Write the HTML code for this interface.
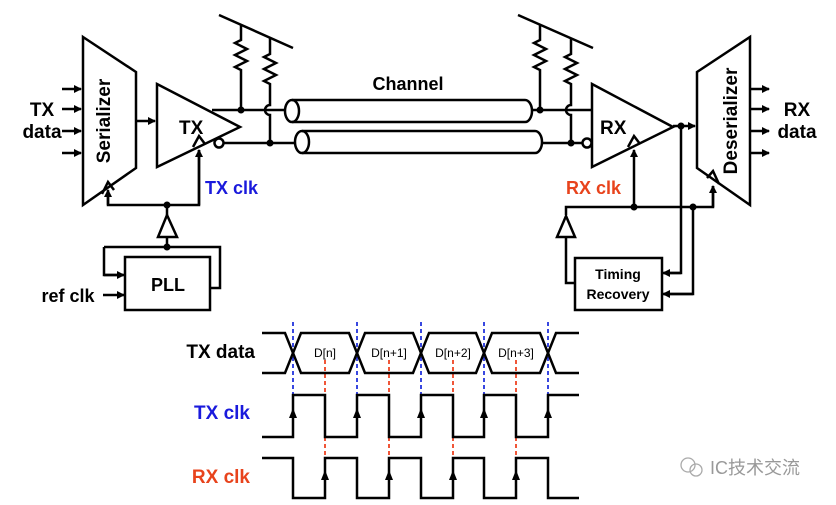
<!DOCTYPE html>
<html><head><meta charset="utf-8"><style>
html,body{margin:0;padding:0;background:#fff;}
svg{display:block;}
text{font-family:"Liberation Sans",Arial,sans-serif;font-weight:bold;}
</style></head><body>
<svg width="836" height="505" viewBox="0 0 836 505" xmlns="http://www.w3.org/2000/svg">
<defs>
<marker id="ar" markerWidth="8" markerHeight="8" refX="7" refY="4" orient="auto" markerUnits="userSpaceOnUse"><path d="M0,0 L8,4 L0,8 z" fill="#000"/></marker>
</defs>
<g stroke="#000" stroke-width="2.5" fill="none">
<path d="M83,37 L136,72 L136,168 L83,205 Z"/>
<path d="M102,194 L108,182 L114,190"/>
<line x1="62" y1="89" x2="81" y2="89" marker-end="url(#ar)"/>
<line x1="62" y1="109" x2="81" y2="109" marker-end="url(#ar)"/>
<line x1="62" y1="131" x2="81" y2="131" marker-end="url(#ar)"/>
<line x1="62" y1="153" x2="81" y2="153" marker-end="url(#ar)"/>
<line x1="136" y1="121" x2="155" y2="121" marker-end="url(#ar)"/>
<path d="M157,84 L240,127 L157,167 Z"/>
<path d="M193,147 L199,136 L205,144"/>
<circle cx="219" cy="143" r="4.5"/>
<line x1="212" y1="110" x2="285" y2="110"/>
<line x1="224" y1="143" x2="295" y2="143"/>
<line x1="219" y1="15" x2="293" y2="48"/>
<path d="M241,25 L241,40 L235,43 L247,49 L235,55 L247,61 L235,67 L241,70 L241,110"/>
<path d="M270,38 L270,54 L264,57 L276,63 L264,69 L276,75 L264,81 L270,84 L270,105 A5,5 0 0 0 270,115 L270,143"/>
<path d="M292,100 L525,100 A7,11 0 0 1 525,122 L292,122"/>
<ellipse cx="292" cy="111" rx="7" ry="11"/>
<path d="M302,131 L535,131 A7,11 0 0 1 535,153 L302,153"/>
<ellipse cx="302" cy="142" rx="7" ry="11"/>
<line x1="518" y1="15" x2="593" y2="48"/>
<path d="M540,25 L540,40 L534,43 L546,49 L534,55 L546,61 L534,67 L540,70 L540,110"/>
<path d="M571,38 L571,54 L565,57 L577,63 L565,69 L577,75 L565,81 L571,84 L571,105 A5,5 0 0 0 571,115 L571,143"/>
<line x1="531" y1="110" x2="592" y2="110"/>
<line x1="541" y1="143" x2="583" y2="143"/>
<circle cx="587" cy="143" r="4.5"/>
<path d="M592,84 L673,127 L592,167 Z"/>
<path d="M628,147 L634,136 L640,144"/>
<line x1="673" y1="126" x2="695" y2="126" marker-end="url(#ar)"/>
<path d="M697,72 L750,37 L750,205 L697,168 Z"/>
<path d="M707,178 L713,171 L719,184"/>
<line x1="750" y1="89" x2="769" y2="89" marker-end="url(#ar)"/>
<line x1="750" y1="109" x2="769" y2="109" marker-end="url(#ar)"/>
<line x1="750" y1="131" x2="769" y2="131" marker-end="url(#ar)"/>
<line x1="750" y1="153" x2="769" y2="153" marker-end="url(#ar)"/>
<polyline points="108,195 108,205 199,205 199,150" />
<line x1="108" y1="205" x2="108" y2="190" marker-end="url(#ar)"/>
<line x1="199" y1="205" x2="199" y2="150" marker-end="url(#ar)"/>
<line x1="167" y1="205" x2="167" y2="215"/>
<path d="M167,215 L177,237 L158,237 Z"/>
<line x1="167" y1="237" x2="167" y2="247"/>
<polyline points="104,247 220,247 220,288 210,288"/>
<polyline points="104,247 104,275 123,275" />
<line x1="104" y1="275" x2="124" y2="275" marker-end="url(#ar)"/>
<rect x="125" y="257" width="85" height="53"/>
<line x1="103" y1="295" x2="124" y2="295" marker-end="url(#ar)"/>
<polyline points="566,215 566,207 713,207 713,186"/>
<line x1="713" y1="207" x2="713" y2="186" marker-end="url(#ar)"/>
<line x1="634" y1="207" x2="634" y2="150" marker-end="url(#ar)"/>
<path d="M566,216 L575,237 L557,237 Z"/>
<polyline points="566,237 566,283 575,283"/>
<polyline points="681,126 681,273 664,273"/>
<line x1="681" y1="273" x2="663" y2="273" marker-end="url(#ar)"/>
<polyline points="693,207 693,294 664,294"/>
<line x1="693" y1="294" x2="663" y2="294" marker-end="url(#ar)"/>
<rect x="575" y="258" width="87" height="52"/>
</g>
<g fill="#000">
<circle cx="241" cy="110" r="3.5"/><circle cx="270" cy="143" r="3.5"/>
<circle cx="540" cy="110" r="3.5"/><circle cx="571" cy="143" r="3.5"/>
<circle cx="681" cy="126" r="3.5"/>
<circle cx="167" cy="205" r="3.5"/><circle cx="167" cy="247" r="3.5"/>
<circle cx="634" cy="207" r="3.5"/><circle cx="693" cy="207" r="3.5"/>
</g>
<g font-size="19">
<text x="42" y="116" text-anchor="middle">TX</text>
<text x="42" y="138" text-anchor="middle">data</text>
<text x="797" y="116" text-anchor="middle">RX</text>
<text x="797" y="138" text-anchor="middle">data</text>
<text x="179" y="134" font-size="19">TX</text>
<text x="600" y="134" font-size="19">RX</text>
<text x="408" y="90" text-anchor="middle" font-size="18">Channel</text>
<text x="168" y="291" text-anchor="middle" font-size="18">PLL</text>
<text x="68" y="302" text-anchor="middle" font-size="18">ref clk</text>
<text x="205" y="194" font-size="18" fill="#1a1adc">TX clk</text>
<text x="566" y="194" font-size="18" fill="#e8431c">RX clk</text>
<text x="618" y="279" text-anchor="middle" font-size="14">Timing</text>
<text x="618" y="299" text-anchor="middle" font-size="14">Recovery</text>
<text transform="translate(110,121) rotate(-90)" text-anchor="middle" font-size="19">Serializer</text>
<text transform="translate(737,121) rotate(-90)" text-anchor="middle" font-size="19">Deserializer</text>
</g>
<g stroke-width="1.8" stroke-dasharray="4,3" fill="none">
<g stroke="#2233dd">
<line x1="293" y1="322" x2="293" y2="395"/><line x1="357" y1="322" x2="357" y2="395"/>
<line x1="421" y1="322" x2="421" y2="395"/><line x1="484" y1="322" x2="484" y2="395"/>
<line x1="548" y1="322" x2="548" y2="395"/>
</g>
<g stroke="#ee4422">
<line x1="325" y1="360" x2="325" y2="458"/><line x1="389" y1="360" x2="389" y2="458"/>
<line x1="453" y1="360" x2="453" y2="458"/><line x1="516" y1="360" x2="516" y2="458"/>
</g>
</g>
<g stroke="#000" stroke-width="2.5" fill="none">
<polyline points="262,333 285,333 301,373 349,373 365,333 413,333 429,373 476,373 492,333 540,333 556,373 579,373"/>
<polyline points="262,373 285,373 301,333 349,333 365,373 413,373 429,333 476,333 492,373 540,373 556,333 579,333"/>
<polyline points="262,437 293,437 293,395 325,395 325,437 357,437 357,395 389,395 389,437 421,437 421,395 453,395 453,437 484,437 484,395 516,395 516,437 548,437 548,395 579,395"/>
<polyline points="262,458 293,458 293,498 325,498 325,458 357,458 357,498 389,498 389,458 421,458 421,498 453,498 453,458 484,458 484,498 516,498 516,458 548,458 548,498 579,498"/>
</g>
<g fill="#000">
<path d="M289,418 L293,408 L297,418 Z"/><path d="M353,418 L357,408 L361,418 Z"/><path d="M417,418 L421,408 L425,418 Z"/><path d="M480,418 L484,408 L488,418 Z"/><path d="M544,418 L548,408 L552,418 Z"/>
<path d="M321,480 L325,470 L329,480 Z"/><path d="M385,480 L389,470 L393,480 Z"/><path d="M449,480 L453,470 L457,480 Z"/><path d="M512,480 L516,470 L520,480 Z"/>
</g>
<g font-size="12" text-anchor="middle">
<text x="325" y="357" style="font-weight:normal">D[n]</text>
<text x="389" y="357" style="font-weight:normal">D[n+1]</text>
<text x="453" y="357" style="font-weight:normal">D[n+2]</text>
<text x="516" y="357" style="font-weight:normal">D[n+3]</text>
</g>
<text x="255" y="358" text-anchor="end" font-size="19">TX data</text>
<text x="250" y="419" text-anchor="end" font-size="19" fill="#1a1adc">TX clk</text>
<text x="250" y="483" text-anchor="end" font-size="19" fill="#e8431c">RX clk</text>
<g stroke="#aaa" stroke-width="1.3" fill="none">
<circle cx="688" cy="465" r="7"/><circle cx="696" cy="470" r="6"/>
</g>
<text x="710" y="474" font-size="18" fill="#999" style="font-weight:normal;font-family:'Liberation Sans','Noto Sans CJK SC',sans-serif">IC技术交流</text>
</svg>
</body></html>
